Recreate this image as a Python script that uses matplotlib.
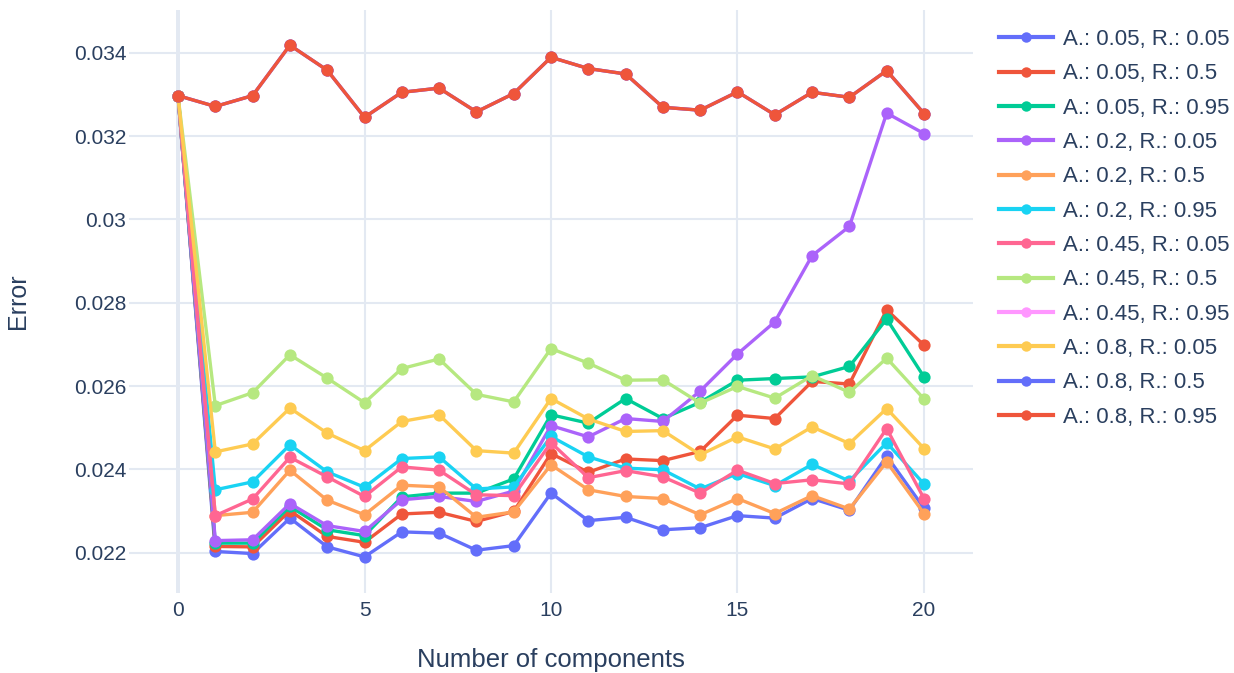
import matplotlib
matplotlib.use("Agg")
import matplotlib.pyplot as plt
from matplotlib.lines import Line2D

plt.rcParams['font.family'] = ['Liberation Sans', 'DejaVu Sans']

components = list(range(21))

labels = [
    "A.: 0.05, R.: 0.05", "A.: 0.05, R.: 0.5", "A.: 0.05, R.: 0.95",
    "A.: 0.2, R.: 0.05", "A.: 0.2, R.: 0.5", "A.: 0.2, R.: 0.95",
    "A.: 0.45, R.: 0.05", "A.: 0.45, R.: 0.5", "A.: 0.45, R.: 0.95",
    "A.: 0.8, R.: 0.05", "A.: 0.8, R.: 0.5", "A.: 0.8, R.: 0.95",
]

colors = ["#636EFA", "#EF553B", "#00CC96", "#AB63FA", "#FFA15A", "#19D3F3",
          "#FF6692", "#B6E880", "#FF97FF", "#FECB52", "#636EFA", "#EF553B"]

err_a005_r005 = [0.03297, 0.02203, 0.02198, 0.02283, 0.02214, 0.02190, 0.02250, 0.02247, 0.02206, 0.02217,
                 0.02343, 0.02277, 0.02285, 0.02255, 0.02260, 0.02289, 0.02283, 0.02330, 0.02302, 0.02432, 0.02307]
err_a005_r05 = [0.03297, 0.02215, 0.02214, 0.02301, 0.02239, 0.02225, 0.02293, 0.02297, 0.02275, 0.02299,
                0.02438, 0.02393, 0.02425, 0.02421, 0.02443, 0.02530, 0.02522, 0.02611, 0.02605, 0.02783, 0.02698]
err_a005_r095 = [0.03297, 0.02223, 0.02223, 0.02311, 0.02255, 0.02241, 0.02334, 0.02343, 0.02343, 0.02377,
                 0.02531, 0.02511, 0.02570, 0.02522, 0.02561, 0.02614, 0.02618, 0.02622, 0.02647, 0.02761, 0.02622]
err_a02_r005 = [0.03297, 0.02229, 0.02231, 0.02318, 0.02265, 0.02251, 0.02327, 0.02335, 0.02323, 0.02348,
                0.02505, 0.02478, 0.02522, 0.02515, 0.02588, 0.02677, 0.02754, 0.02913, 0.02983, 0.03255, 0.03206]
err_a02_r05 = [0.03297, 0.02289, 0.02297, 0.02398, 0.02326, 0.02291, 0.02362, 0.02358, 0.02285, 0.02298,
               0.02411, 0.02351, 0.02335, 0.02330, 0.02291, 0.02330, 0.02294, 0.02337, 0.02305, 0.02418, 0.02294]
err_a02_r095 = [0.03297, 0.02351, 0.02370, 0.02459, 0.02394, 0.02357, 0.02426, 0.02430, 0.02353, 0.02358,
                0.02479, 0.02430, 0.02403, 0.02399, 0.02353, 0.02390, 0.02361, 0.02412, 0.02372, 0.02464, 0.02365]
err_a045_r005 = [0.03297, 0.02289, 0.02329, 0.02429, 0.02382, 0.02335, 0.02406, 0.02398, 0.02339, 0.02337,
                 0.02464, 0.02380, 0.02397, 0.02382, 0.02343, 0.02398, 0.02366, 0.02375, 0.02365, 0.02498, 0.02330]
err_a045_r05 = [0.03297, 0.02553, 0.02584, 0.02675, 0.02619, 0.02560, 0.02642, 0.02665, 0.02580, 0.02562,
                0.02690, 0.02655, 0.02614, 0.02615, 0.02559, 0.02599, 0.02571, 0.02625, 0.02585, 0.02667, 0.02569]
err_a045_r095 = [0.03297, 0.03271, 0.03297, 0.03418, 0.03358, 0.03245, 0.03305, 0.03315, 0.03258, 0.03302,
                 0.03389, 0.03362, 0.03349, 0.03269, 0.03262, 0.03306, 0.03251, 0.03305, 0.03293, 0.03357, 0.03254]
err_a08_r005 = [0.03297, 0.02442, 0.02461, 0.02547, 0.02487, 0.02445, 0.02515, 0.02531, 0.02445, 0.02439,
                0.02570, 0.02521, 0.02491, 0.02493, 0.02435, 0.02478, 0.02449, 0.02502, 0.02462, 0.02546, 0.02450]
err_a08_r05 = [0.03297, 0.03271, 0.03297, 0.03418, 0.03358, 0.03245, 0.03305, 0.03315, 0.03258, 0.03302,
               0.03389, 0.03362, 0.03349, 0.03269, 0.03262, 0.03306, 0.03251, 0.03305, 0.03293, 0.03357, 0.03254]
err_a08_r095 = [0.03297, 0.03271, 0.03297, 0.03418, 0.03358, 0.03245, 0.03305, 0.03315, 0.03258, 0.03302,
                0.03389, 0.03362, 0.03349, 0.03269, 0.03262, 0.03306, 0.03251, 0.03305, 0.03293, 0.03357, 0.03254]

series = [err_a005_r005, err_a005_r05, err_a005_r095, err_a02_r005, err_a02_r05, err_a02_r095,
          err_a045_r005, err_a045_r05, err_a045_r095, err_a08_r005, err_a08_r05, err_a08_r095]

x_ticks = [0, 5, 10, 15, 20]
y_ticks = [0.022, 0.024, 0.026, 0.028, 0.030, 0.032, 0.034]
y_tick_labels = ["0.022", "0.024", "0.026", "0.028", "0.03", "0.032", "0.034"]

TEXT = "#2a3f5f"
GRID = "#E3E9F2"

W, H = 1234, 673
fig = plt.figure(figsize=(W / 100, H / 100), dpi=100)
fig.patch.set_facecolor("white")
ax = fig.add_axes([129 / W, 1 - 593 / H, (973 - 129) / W, (593 - 10) / H])
ax.set_facecolor("white")

for vals, col, lab in zip(series, colors, labels):
    ax.plot(components, vals, color=col, lw=2.4, marker="o", ms=8.8,
            markeredgewidth=0, solid_joinstyle="round", label=lab)

ax.set_xlim(-1.314, 21.314)
ax.set_ylim(0.021033, 0.035025)

ax.set_xticks(x_ticks)
ax.set_xticklabels([str(t) for t in x_ticks])
ax.set_yticks(y_ticks)
ax.set_yticklabels(y_tick_labels)
ax.tick_params(axis="both", length=0, labelsize=15, labelcolor=TEXT)
ax.tick_params(axis="x", pad=6)
ax.tick_params(axis="y", pad=2)

ax.grid(True, color=GRID, lw=1.5, zorder=0)
ax.set_axisbelow(True)
ax.axvline(0, color=GRID, lw=2.8, zorder=0.5)
for s in ax.spines.values():
    s.set_visible(False)

fig.text(551 / W, 1 - 667 / H, "Number of components", ha="center", va="baseline",
         fontsize=18.5, color=TEXT)
fig.text(18 / W, 1 - 301 / H, "Error", ha="center", va="center", rotation=90,
         fontsize=18, color=TEXT)

handles = [Line2D([0], [0], color=c, lw=3, marker="o", ms=7.5, markeredgewidth=0) for c in colors]
fig.legend(handles, labels, loc="upper left", bbox_to_anchor=(999 / W, 1 - 29 / H),
           frameon=False, fontsize=16, labelcolor=TEXT, handlelength=2.45,
           handletextpad=0.45, labelspacing=0.6, borderpad=0, borderaxespad=0)

fig.savefig("out.png", dpi=100, facecolor="white")
